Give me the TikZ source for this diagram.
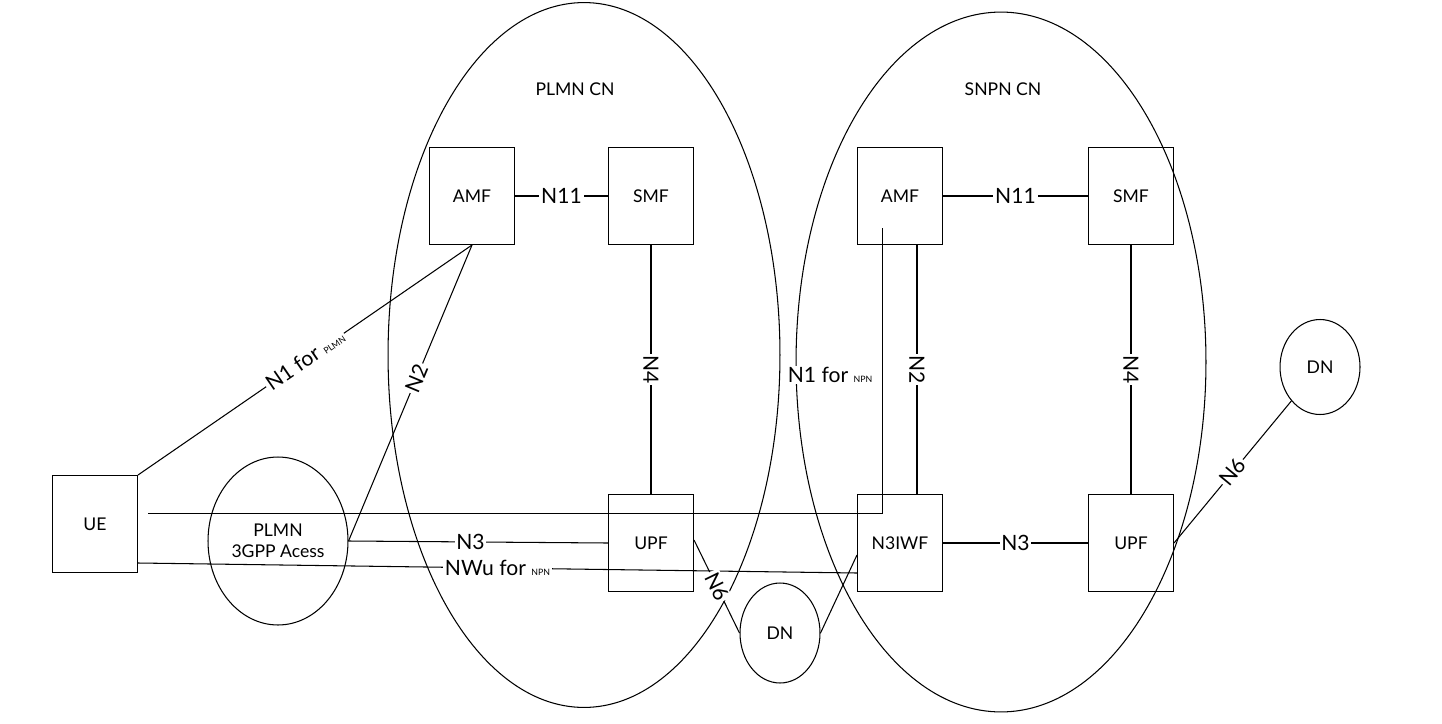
\documentclass[tikz,border=0pt]{standalone}
\usepackage{fontspec}
\setmainfont{Lato}
\usetikzlibrary{calc,shapes.geometric}
\newcommand{\subsm}[1]{{\fontsize{5}{6}\selectfont #1}}
\begin{document}
\begin{tikzpicture}[x=0.02cm,y=-0.02cm,line width=0.6pt,font=\fontsize{10}{12}\selectfont,
 box/.style={draw,minimum width=1.7cm,minimum height=1.94cm,inner sep=0pt},
 lab/.style={fill=white,inner sep=1pt},
 big/.style={font=\fontsize{12}{14}\selectfont}]
\useasboundingbox (0,0) rectangle (1442,723);
\node[draw,ellipse,minimum width=7.84cm,minimum height=14.1cm] (plmn) at (584,355) {};
\node[draw,ellipse,minimum width=8.2cm,minimum height=14.0cm] (snpn) at (1001,362) {};
\node (plmnl) at (575,89) {PLMN CN};
\node (snpnl) at (1003,89) {SNPN CN};
\node[box] (amf1) at (472,196) {AMF};
\node[box] (smf1) at (651,196) {SMF};
\node[box] (upf1) at (651,543) {UPF};
\node[box] (amf2) at (900,196) {AMF};
\node[box] (smf2) at (1131,196) {SMF};
\node[box] (n3iwf) at (900,543) {N3IWF};
\node[box] (upf2) at (1131,543) {UPF};
\node[box] (ue) at (95,524) {UE};
\node[draw,ellipse,minimum width=2.8cm,minimum height=3.36cm,align=center,inner sep=0pt] (acc) at (278,541) {PLMN\\3GPP Acess};
\node[draw,ellipse,minimum width=1.6cm,minimum height=2cm] (dn1) at (780,633) {DN};
\node[draw,ellipse,minimum width=1.6cm,minimum height=1.9cm] (dn2) at (1320,367) {DN};
\draw (amf1) -- node[lab,big]{N11} (smf1);
\draw (amf2) -- node[lab,big]{N11} (smf2);
\draw (smf1) -- node[lab,big,sloped]{N4} (upf1);
\draw (smf2) -- node[lab,big,sloped]{N4} (upf2);
\draw (n3iwf) -- node[lab,big]{N3} (upf2);
\draw (ue.north east) -- node[lab,big,sloped]{N1 for \subsm{PLMN}} (amf1.south);
\draw (acc.east) -- node[lab,big,sloped,pos=0.55]{N2} (amf1.south);
\draw (acc.east) -- node[lab,big,pos=0.47]{N3} (upf1.west);
\coordinate (n1s) at (148,513);
\coordinate (n1c) at (882,513);
\coordinate (n1e) at (882,228);
\draw[line width=0.4pt] (n1s) -- (n1c) -- (n1e);
\node[lab,big] (n1l) at (830,375) {N1 for \subsm{NPN}};
\draw (ue.east |- 0,563) -- node[lab,big,pos=0.5]{NWu for \subsm{NPN}} (n3iwf.west |- 0,573);
\draw (amf2.south -| 917,0) -- node[lab,big,sloped]{N2} (n3iwf.north -| 917,0);
\draw (upf1.east |- 0,540) -- node[lab,big,sloped]{N6} (dn1.west);
\draw (dn1.east) -- (n3iwf.west |- 0,555);
\draw (upf2.east) -- node[lab,big,sloped]{N6} (dn2.south west);
\end{tikzpicture}
\end{document}
